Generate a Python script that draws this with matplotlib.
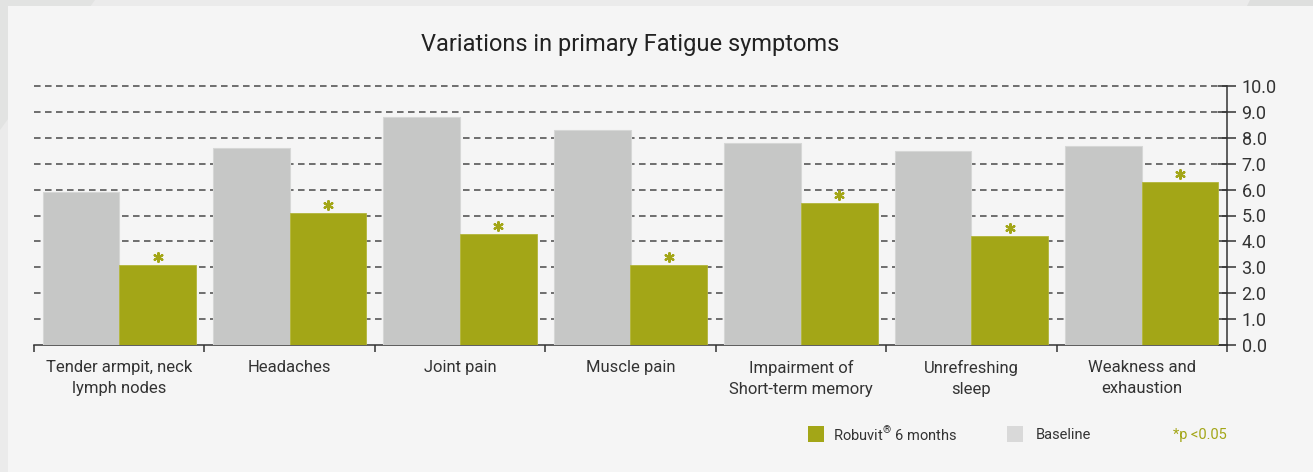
import numpy as np
import matplotlib
matplotlib.use('Agg')
import matplotlib.pyplot as plt
from matplotlib.patches import Rectangle, Polygon

plt.rcParams['font.family'] = ['Roboto', 'DejaVu Sans']
plt.rcParams['mathtext.fontset'] = 'custom'
plt.rcParams['mathtext.rm'] = 'Roboto'

# data
categories = ['Tender armpit, neck\nlymph nodes', 'Headaches', 'Joint pain', 'Muscle pain',
              'Impairment of\nShort-term memory', 'Unrefreshing\nsleep', 'Weakness and\nexhaustion']
baseline = [5.9, 7.6, 8.8, 8.3, 7.8, 7.5, 7.7]
robuvit = [3.1, 5.1, 4.3, 3.1, 5.5, 4.2, 6.3]
significant = [True] * 7
yticks = [0.0, 1.0, 2.0, 3.0, 4.0, 5.0, 6.0, 7.0, 8.0, 9.0, 10.0]

GREEN = '#a3a617'
GREY = '#c6c7c6'
TXT = '#333333'

W, H = 1313, 472
fig = plt.figure(figsize=(W / 100, H / 100), dpi=100)
fig.patch.set_facecolor('#ebebeb')

# background panel
fig.add_artist(Polygon([[0, 1], [95 / W, 1], [0, 1 - 130 / H]], closed=True,
                       transform=fig.transFigure, fc='#e2e3e2', ec='none', zorder=0))
fig.add_artist(Polygon([[1250 / W, 1], [1, 1], [1, 1 - 6 / H], [1247 / W, 1 - 6 / H]], closed=True,
                       transform=fig.transFigure, fc='#dedfde', ec='none', zorder=0))
fig.add_artist(Rectangle((8 / W, 0), 1, 1 - 6 / H, transform=fig.transFigure,
                         fc='#f5f5f5', ec='none', zorder=0))

ax = fig.add_axes([34 / W, 1 - 345 / H, 1193 / W, 259 / H])
ax.set_facecolor('none')

x = np.arange(len(categories))
bw = 0.45
ax.bar(x - bw / 2, baseline, width=bw, color=GREY, edgecolor='#d6d7d6', linewidth=0.8, zorder=3)
ax.bar(x + bw / 2, robuvit, width=bw, color=GREEN, edgecolor='#b3b63a', linewidth=0.6, zorder=3)

# significance asterisks
sig_x = [xi + bw / 2 for xi, s in zip(x, significant) if s]
sig_y = [v + 0.3 for v, s in zip(robuvit, significant) if s]
ax.scatter(sig_x, sig_y, marker=(6, 2, 0), s=40, color=GREEN, linewidths=1.6, zorder=4,
           clip_on=False)

ax.set_xlim(-0.5, len(categories) - 0.5)
ax.set_ylim(0, 10)

for yv in yticks[1:]:
    ax.axhline(yv, color='#4a4a4a', lw=1.1, dashes=(4.3, 2.9), zorder=1, clip_on=False)

ax.yaxis.tick_right()
ax.set_yticks(yticks)
ax.set_yticklabels([f'{v:.1f}' for v in yticks])
ax.tick_params(axis='y', direction='inout', length=13, width=1.1, color=TXT,
               labelsize=13, labelcolor=TXT, pad=4)

ax.set_xticks(x)
ax.set_xticklabels(categories, linespacing=1.45)
ax.set_xticks(np.arange(len(categories) + 1) - 0.5, minor=True)
ax.tick_params(axis='x', which='major', length=0, labelsize=12, labelcolor=TXT, pad=11)
ax.tick_params(axis='x', which='minor', direction='out', length=5, width=1.1, color=TXT)

for side in ['top', 'left']:
    ax.spines[side].set_visible(False)
ax.spines['right'].set_color(TXT)
ax.spines['right'].set_linewidth(1.1)
ax.spines['bottom'].set_color(TXT)
ax.spines['bottom'].set_linewidth(1.1)

fig.text(630 / W, 1 - 45 / H, 'Variations in primary Fatigue symptoms', ha='center', va='center',
         fontsize=17, color='#222222')

# legend
fig.add_artist(Rectangle((808 / W, 1 - 442 / H), 16 / W, 16 / H, transform=fig.transFigure,
                         fc=GREEN, ec='none'))
fig.text(833 / W, 1 - 435 / H, r'Robuvit$^{\mathrm{®}}$ 6 months', ha='left', va='center',
         fontsize=10.5, color=TXT)
fig.add_artist(Rectangle((1007 / W, 1 - 442 / H), 16 / W, 16 / H, transform=fig.transFigure,
                         fc='#d9d9d9', ec='none'))
fig.text(1036 / W, 1 - 435 / H, 'Baseline', ha='left', va='center', fontsize=10.5, color=TXT)
fig.text(1173 / W, 1 - 435 / H, '*p <0.05', ha='left', va='center', fontsize=10.5, color=GREEN)

fig.savefig('out.png', dpi=100, facecolor=fig.get_facecolor())
